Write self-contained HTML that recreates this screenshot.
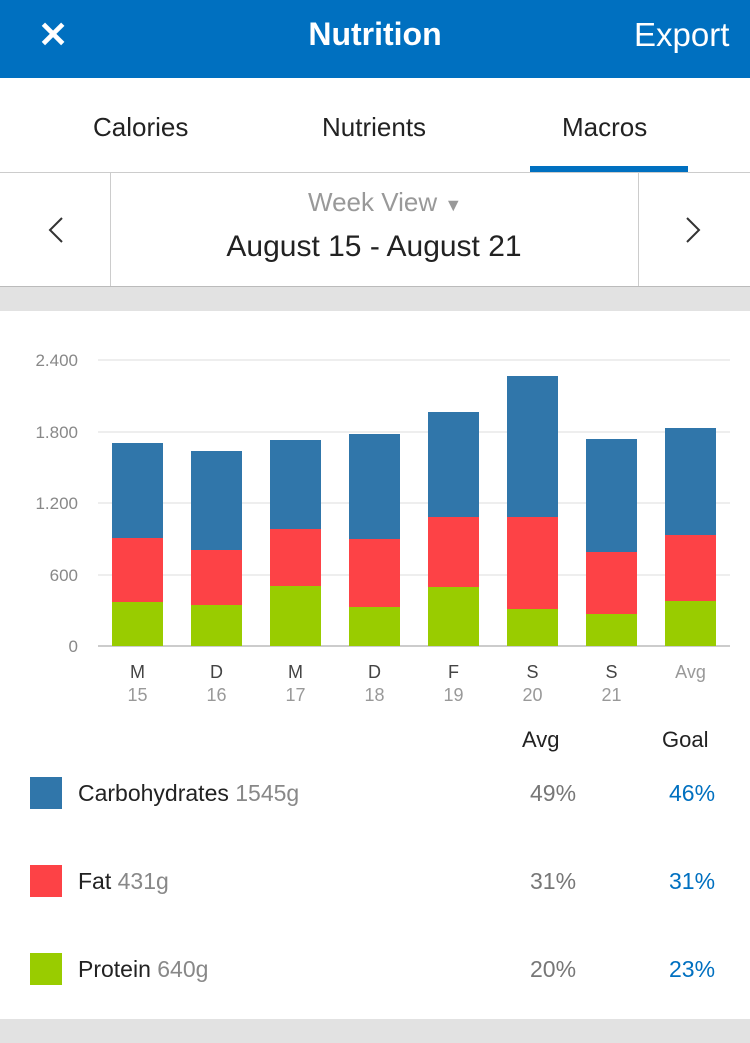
<!DOCTYPE html>
<html><head><meta charset="utf-8"><style>
body{margin:0;width:750px;height:1043px;overflow:hidden;background:#fff;font-family:"Liberation Sans",sans-serif;position:relative}
.a{position:absolute}
</style></head><body>
<div class="a" style="left:0;top:0;width:750px;height:78px;background:#0070c0"></div>
<div class="a" style="left:38px;top:14px;color:#fff;font-size:36px;font-weight:bold">✕</div>
<div class="a" style="left:0;width:750px;top:16px;text-align:center;color:#fff;font-size:32px;font-weight:bold">Nutrition</div>
<div class="a" style="left:634px;top:16px;color:#fff;font-size:33px">Export</div>
<div class="a" style="left:93px;top:112px;font-size:26px;color:#222">Calories</div>
<div class="a" style="left:322px;top:112px;font-size:26px;color:#222">Nutrients</div>
<div class="a" style="left:562px;top:112px;font-size:26px;color:#222">Macros</div>
<div class="a" style="left:530px;top:166px;width:158px;height:7px;background:#0070c0"></div>
<div class="a" style="left:0;top:172px;width:750px;height:1px;background:#ccc"></div>
<div class="a" style="left:110px;top:173px;width:1px;height:113px;background:#ccc"></div>
<div class="a" style="left:638px;top:173px;width:1px;height:113px;background:#ccc"></div>
<svg class="a" style="left:0;top:173px" width="750" height="113"><polyline points="62,45 50,57 62,69" fill="none" stroke="#333" stroke-width="2"/><polyline points="687,45 699,57 687,69" fill="none" stroke="#333" stroke-width="2"/></svg>
<div class="a" style="left:308px;top:187px;font-size:26px;color:#999">Week View <span style="font-size:18px">▼</span></div>
<div class="a" style="left:110px;width:528px;top:230px;text-align:center;font-size:30px;color:#222">August 15 - August 21</div>
<div class="a" style="left:0;top:286px;width:750px;height:24px;background:#e2e2e2;border-top:1px solid #bbb"></div>
<svg class="a" style="left:0;top:310px" width="750" height="400" font-family="Liberation Sans" font-size="18">
<g stroke="#ddd" stroke-width="1"><line x1="98" x2="730" y1="50" y2="50"/><line x1="98" x2="730" y1="122" y2="122"/><line x1="98" x2="730" y1="193" y2="193"/><line x1="98" x2="730" y1="265" y2="265"/></g>
<line x1="98" x2="730" y1="336" y2="336" stroke="#999"/>
<g fill="#888" text-anchor="end" font-size="17"><text x="78" y="56">2.400</text><text x="78" y="128">1.800</text><text x="78" y="199">1.200</text><text x="78" y="271">600</text><text x="78" y="342">0</text></g>
<g id="b"></g>
</svg>
<script>
var d=[[443,538,602],[451,550,605],[440,529,586],[434,539,607],[412,517,587],[376,517,609],[439,552,614],[428,535,601]];
var l=[["M",15],["D",16],["M",17],["D",18],["F",19],["S",20],["S",21],["Avg",""]];
var s="";d.forEach(function(v,i){var x=112+i*79;
s+='<rect x="'+x+'" y="'+(v[0]-310)+'" width="51" height="'+(v[1]-v[0])+'" fill="#3076aa"/>';
s+='<rect x="'+x+'" y="'+(v[1]-310)+'" width="51" height="'+(v[2]-v[1])+'" fill="#fd4246"/>';
s+='<rect x="'+x+'" y="'+(v[2]-310)+'" width="51" height="'+(646-v[2])+'" fill="#99cc00"/>';
s+='<text x="'+(x+25.5)+'" y="368" text-anchor="middle" fill="'+(i==7?"#999":"#444")+'">'+l[i][0]+'</text>';
s+='<text x="'+(x+25.5)+'" y="391" text-anchor="middle" fill="#999">'+l[i][1]+'</text>';});
document.getElementById("b").innerHTML=s;
</script>
<div class="a" style="left:522px;top:727px;font-size:22px;color:#222">Avg</div>
<div class="a" style="left:662px;top:727px;font-size:22px;color:#222">Goal</div>
<div class="a" style="left:30px;top:777px;width:32px;height:32px;background:#3076aa"></div>
<div class="a" style="left:78px;top:780px;font-size:23px;color:#222">Carbohydrates <span style="color:#888">1545g</span></div>
<div class="a" style="left:530px;top:780px;font-size:23px;color:#777">49%</div>
<div class="a" style="left:669px;top:780px;font-size:23px;color:#0070c0">46%</div>
<div class="a" style="left:30px;top:865px;width:32px;height:32px;background:#fd4246"></div>
<div class="a" style="left:78px;top:868px;font-size:23px;color:#222">Fat <span style="color:#888">431g</span></div>
<div class="a" style="left:530px;top:868px;font-size:23px;color:#777">31%</div>
<div class="a" style="left:669px;top:868px;font-size:23px;color:#0070c0">31%</div>
<div class="a" style="left:30px;top:953px;width:32px;height:32px;background:#99cc00"></div>
<div class="a" style="left:78px;top:956px;font-size:23px;color:#222">Protein <span style="color:#888">640g</span></div>
<div class="a" style="left:530px;top:956px;font-size:23px;color:#777">20%</div>
<div class="a" style="left:669px;top:956px;font-size:23px;color:#0070c0">23%</div>
<div class="a" style="left:0;top:1019px;width:750px;height:24px;background:#e2e2e2"></div>
</body></html>
